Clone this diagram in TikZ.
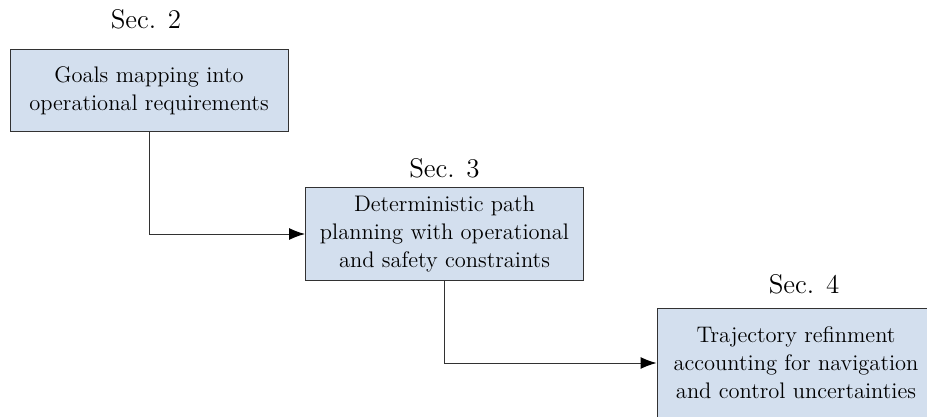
\documentclass[tikz,border=0pt]{standalone}
\usetikzlibrary{arrows.meta}
\definecolor{boxfill}{RGB}{211,223,238}
\definecolor{linegray}{RGB}{50,50,50}
\tikzset{
  secbox/.style={draw=linegray, line width=0.5pt, fill=boxfill, align=center,
    minimum width=139pt, inner sep=0pt, font=\fontsize{11.25}{14}\selectfont},
  seclabel/.style={anchor=base, font=\fontsize{13.5}{16}\selectfont},
  flow/.style={draw=linegray, line width=0.5pt, -{Latex[length=8pt,width=6pt,black]}}
}
\begin{document}
\begin{tikzpicture}[x=0.5pt, y=-0.5pt] % Define frame
    \useasboundingbox (0,0) rectangle (927,417);
    \clip (0,0) rectangle (927,417);

    % Define box centres
    \coordinate (C1) at (149,91); \coordinate (C2) at (444.5,234); \coordinate (C3) at (796,363);

    % Draw boxes
    \node[secbox, minimum height=41pt] (goals) at (C1) {Goals mapping into\\operational requirements};
    \node[secbox, minimum height=46pt] (path) at (C2) {Deterministic path\\planning with operational\\and safety constraints};
    \node[secbox, minimum height=55pt] (traj) at (C3) {Trajectory refinment\\accounting for navigation\\and control uncertainties};

    % Add section labels
    \node[seclabel] (sec2) at (146,29) {Sec. 2};
    \node[seclabel] (sec3) at (444.5,177) {Sec. 3};
    \node[seclabel] (sec4) at (804,293) {Sec. 4};

    % Draw connectors
    \draw[flow] (goals.south) |- (path.west);
    \draw[flow] (path.south) |- (traj.west);

  \end{tikzpicture}
\end{document}
